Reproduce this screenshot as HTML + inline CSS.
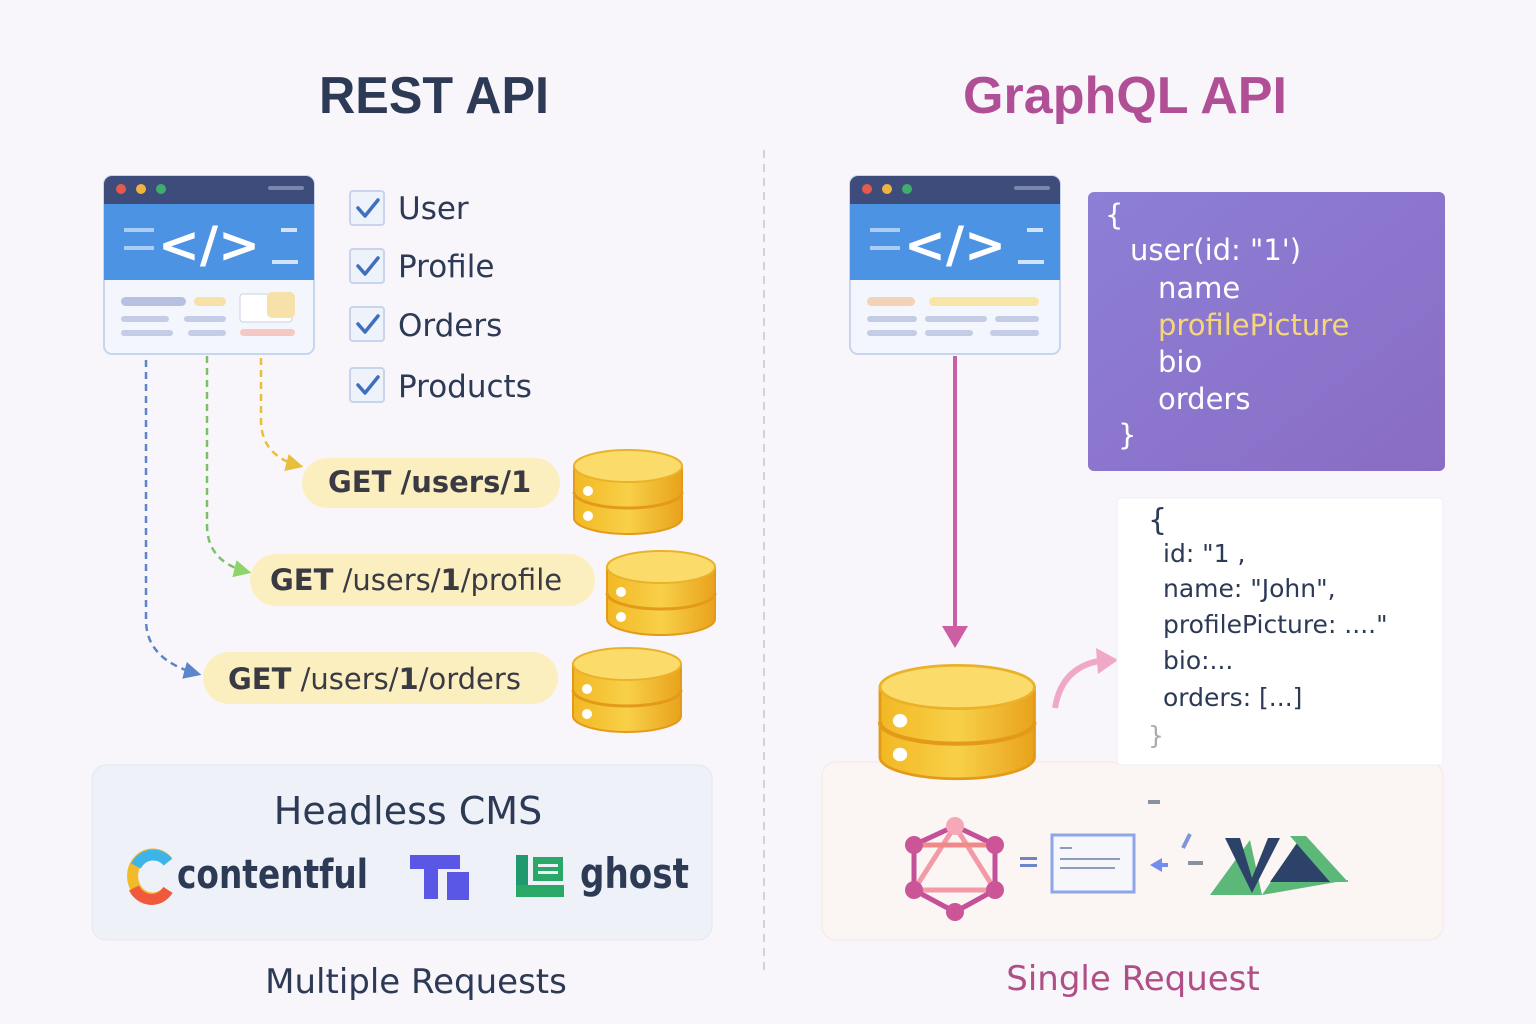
<!DOCTYPE html>
<html><head><meta charset="utf-8"><style>
html,body{margin:0;padding:0;background:#f8f6fb}
svg{display:block}
text{font-family:"DejaVu Sans","Liberation Sans",sans-serif}
</style></head><body>
<svg width="1536" height="1024" viewBox="0 0 1536 1024" xmlns="http://www.w3.org/2000/svg">
<defs>
<linearGradient id="gold" x1="0" x2="1"><stop offset="0" stop-color="#f2b824"/><stop offset=".5" stop-color="#f8d048"/><stop offset="1" stop-color="#e9a21c"/></linearGradient>
<linearGradient id="purp" x1="0" y1="0" x2="1" y2="1"><stop offset="0" stop-color="#8d7fd6"/><stop offset="1" stop-color="#8a6cc4"/></linearGradient>
<marker id="ab" viewBox="0 0 10 10" refX="8" refY="5" markerWidth="7" markerHeight="7" orient="auto"><path d="M0,0L10,5L0,10z" fill="#5b86c9"/></marker>
<marker id="ag" viewBox="0 0 10 10" refX="8" refY="5" markerWidth="7" markerHeight="7" orient="auto"><path d="M0,0L10,5L0,10z" fill="#8fd46a"/></marker>
<marker id="ay" viewBox="0 0 10 10" refX="8" refY="5" markerWidth="7" markerHeight="7" orient="auto"><path d="M0,0L10,5L0,10z" fill="#e8bf3c"/></marker>
<g id="db">
<path d="M0,20 v52 a54,16 0 0 0 108,0 v-52z" fill="url(#gold)" stroke="#e39a1a" stroke-width="2"/>
<path d="M0,46 a54,16 0 0 0 108,0" fill="none" stroke="#e39a1a" stroke-width="3"/>
<ellipse cx="54" cy="20" rx="54" ry="16" fill="#fbdc6a" stroke="#eab22a" stroke-width="2"/>
<circle cx="14" cy="45" r="5" fill="#fff"/><circle cx="14" cy="70" r="5" fill="#fff"/>
</g>
<g id="br">
<rect x="0" y="0" width="210" height="178" rx="8" fill="#f3f6fc" stroke="#c7d6ee" stroke-width="2"/>
<path d="M8,0h194a8,8 0 0 1 8,8v20h-210v-20a8,8 0 0 1 8,-8z" fill="#3e4c7c"/>
<circle cx="17" cy="13" r="5" fill="#e55a4a"/><circle cx="37" cy="13" r="5" fill="#f0b340"/><circle cx="57" cy="13" r="5" fill="#3fae6c"/>
<rect x="164" y="10" width="36" height="4" rx="2" fill="#7a86ab"/>
<rect x="0" y="28" width="210" height="76" fill="#4c93e3"/>
<rect x="20" y="52" width="30" height="4" fill="#a9cdf4"/><rect x="20" y="70" width="30" height="4" fill="#a9cdf4"/>
<text x="105" y="86" text-anchor="middle" font-size="50" font-weight="bold" fill="#fff">&lt;/&gt;</text>
<rect x="177" y="52" width="16" height="4" fill="#d0e4fa"/><rect x="168" y="84" width="26" height="4" fill="#d0e4fa"/>
</g>
</defs>

<line x1="764" y1="150" x2="764" y2="970" stroke="#cdbfd3" stroke-width="1.5" stroke-dasharray="8,6"/>

<text x="434" y="113" text-anchor="middle" font-size="52" fill="#2d3a55" style="font-family:'Liberation Sans',sans-serif" font-weight="bold" textLength="230" lengthAdjust="spacingAndGlyphs">REST API</text>
<text x="1125" y="113" text-anchor="middle" font-size="52" fill="#b04f95" style="font-family:'Liberation Sans',sans-serif" font-weight="bold" textLength="324" lengthAdjust="spacingAndGlyphs">GraphQL API</text>

<use href="#br" x="104" y="176"/>
<rect x="121" y="297" width="65" height="9" rx="4.5" fill="#b7c0e0"/><rect x="194" y="297" width="32" height="9" rx="4.5" fill="#f6e1a6"/>
<rect x="121" y="316" width="48" height="6" rx="3" fill="#c5cde6"/><rect x="184" y="316" width="42" height="6" rx="3" fill="#c5cde6"/>
<rect x="121" y="330" width="52" height="6" rx="3" fill="#c5cde6"/><rect x="188" y="330" width="38" height="6" rx="3" fill="#c5cde6"/>
<rect x="240" y="294" width="52" height="28" rx="3" fill="#fff" stroke="#c7d0e6"/><rect x="267" y="292" width="28" height="26" rx="5" fill="#f6e2a8"/>
<rect x="240" y="329" width="55" height="7" rx="3.5" fill="#f5c8c4"/>

<g font-size="31" fill="#2d3a55">
<g stroke="#c8d4ec" stroke-width="2" fill="#eef2fa">
<rect x="350" y="191" width="34" height="34" rx="3"/><rect x="350" y="249" width="34" height="34" rx="3"/>
<rect x="350" y="307" width="34" height="34" rx="3"/><rect x="350" y="368" width="34" height="34" rx="3"/></g>
<g stroke="#3f6fbf" stroke-width="3.5" fill="none" stroke-linecap="round" stroke-linejoin="round">
<path d="M358,208l7,8l13,-16"/><path d="M358,266l7,8l13,-16"/><path d="M358,324l7,8l13,-16"/><path d="M358,385l7,8l13,-16"/></g>
<text x="398" y="219">User</text><text x="398" y="277">Profile</text><text x="398" y="336">Orders</text><text x="398" y="397">Products</text>
</g>

<path d="M146,360 V620 Q146,660 198,674" fill="none" stroke="#5b86c9" stroke-width="2.5" stroke-dasharray="7,5" marker-end="url(#ab)"/>
<path d="M207,356 V525 Q207,562 248,572" fill="none" stroke="#7cc16a" stroke-width="2.5" stroke-dasharray="7,5" marker-end="url(#ag)"/>
<path d="M261,358 V420 Q261,456 300,466" fill="none" stroke="#e8bf3c" stroke-width="2.5" stroke-dasharray="7,5" marker-end="url(#ay)"/>

<g font-size="29" fill="#3a3a44">
<rect x="302" y="458" width="258" height="50" rx="25" fill="#fcefbf"/>
<text x="328" y="492"><tspan font-weight="bold">GET</tspan> <tspan font-weight="bold">/users/1</tspan></text>
<rect x="250" y="554" width="345" height="52" rx="26" fill="#fcefbf"/>
<text x="270" y="590"><tspan font-weight="bold">GET</tspan> /users/<tspan font-weight="bold">1</tspan>/profile</text>
<rect x="203" y="652" width="355" height="52" rx="26" fill="#fcefbf"/>
<text x="228" y="689"><tspan font-weight="bold">GET</tspan> /users/<tspan font-weight="bold">1</tspan>/orders</text>
</g>
<use href="#db" x="574" y="446"/><use href="#db" x="607" y="547"/><use href="#db" x="573" y="644"/>

<rect x="92" y="765" width="620" height="175" rx="14" fill="#eef1f8" stroke="#e2e7f2"/>
<text x="408" y="824" text-anchor="middle" font-size="38" fill="#2d3a55">Headless CMS</text>
<path d="M168,862 A20,22 0 1 0 168,890" fill="none" stroke="#f2b92a" stroke-width="11"/>
<path d="M168,862 A20,22 0 0 0 136,866" fill="none" stroke="#3db4e8" stroke-width="11"/>
<path d="M134,888 A20,22 0 0 0 168,890" fill="none" stroke="#ef5a3c" stroke-width="11"/>
<text x="177" y="888" font-size="40" font-weight="bold" fill="#2d3a55" textLength="191" lengthAdjust="spacingAndGlyphs">contentful</text>
<path d="M410,855h50v14h-22v30h-14v-30h-14z" fill="#5a56e6"/><rect x="447" y="872" width="22" height="28" fill="#5a56e6"/>
<rect x="516" y="855" width="12" height="42" fill="#1f9a6e"/><rect x="516" y="885" width="48" height="12" fill="#2aa868"/>
<rect x="533" y="857" width="30" height="24" fill="#2aa868"/><rect x="538" y="864" width="20" height="3" fill="#eef1f8"/><rect x="538" y="871" width="20" height="3" fill="#eef1f8"/>
<text x="580" y="888" font-size="42" font-weight="bold" fill="#2d3a55" textLength="109" lengthAdjust="spacingAndGlyphs">ghost</text>
<text x="416" y="993" text-anchor="middle" font-size="34" fill="#2d3a55">Multiple Requests</text>

<rect x="822" y="762" width="621" height="178" rx="14" fill="#fbf5f3" stroke="#f5e8e4"/>
<use href="#br" x="850" y="176"/>
<rect x="867" y="297" width="48" height="9" rx="4.5" fill="#f4d2b6"/><rect x="929" y="297" width="110" height="9" rx="4.5" fill="#f7e6a6"/>
<rect x="867" y="316" width="50" height="6" rx="3" fill="#c5cde6"/><rect x="925" y="316" width="62" height="6" rx="3" fill="#c5cde6"/><rect x="995" y="316" width="44" height="6" rx="3" fill="#c5cde6"/>
<rect x="867" y="330" width="50" height="6" rx="3" fill="#c5cde6"/><rect x="925" y="330" width="48" height="6" rx="3" fill="#c5cde6"/><rect x="990" y="330" width="49" height="6" rx="3" fill="#c5cde6"/>

<rect x="1088" y="192" width="357" height="279" rx="6" fill="url(#purp)"/>
<g font-size="29" fill="#fff">
<text x="1105" y="225">{</text><text x="1130" y="260">user(id: "1')</text>
<text x="1158" y="298">name</text><text x="1158" y="335" fill="#f5d77a">profilePicture</text>
<text x="1158" y="372">bio</text><text x="1158" y="409">orders</text><text x="1118" y="445">}</text>
</g>

<line x1="955" y1="356" x2="955" y2="628" stroke="#cc5fa3" stroke-width="4"/>
<path d="M942,626 L955,648 L968,626z" fill="#cc5fa3"/>
<g transform="translate(880,660) scale(1.43,1.35)"><use href="#db"/></g>
<path d="M1055,708 Q1062,665 1105,660" fill="none" stroke="#f0a8c8" stroke-width="6"/>
<path d="M1096,648 L1118,660 L1098,674z" fill="#f0a8c8"/>

<rect x="1117" y="498" width="326" height="267" rx="4" fill="#fff" stroke="#eceef4"/>
<g font-size="25" fill="#2d3a55">
<text x="1148" y="530" font-size="30">{</text>
<text x="1163" y="562">id: "1 ,</text><text x="1163" y="597">name: "John",</text>
<text x="1163" y="633">profilePicture:  ...."</text><text x="1163" y="669">bio:...</text>
<text x="1163" y="706">orders: [...]</text><text x="1148" y="744" fill="#aaa">}</text>
</g>

<rect x="1148" y="800" width="12" height="4" fill="#8a90a0"/>
<g stroke-width="4">
<line x1="955" y1="826" x2="995" y2="845" stroke="#f4a0a8"/>
<path d="M955,826 L914,890 L995,890 Z" fill="none" stroke="#f29aa8" stroke-width="5"/>
<path d="M914,845 L914,890 L955,912 L995,890 L995,845 L955,826 Z" fill="none" stroke="#c4509a" stroke-width="5"/>
<line x1="914" y1="845" x2="995" y2="845" stroke="#f08a8a" stroke-width="5"/>
</g>
<g fill="#cc5598"><circle cx="955" cy="826" r="9" fill="#f6a8b8"/><circle cx="914" cy="845" r="9"/><circle cx="995" cy="845" r="9"/><circle cx="914" cy="890" r="9"/><circle cx="995" cy="890" r="9"/><circle cx="955" cy="912" r="9"/></g>
<rect x="1020" y="857" width="17" height="3" fill="#6d86c8"/><rect x="1020" y="864" width="17" height="3" fill="#6d86c8"/>
<rect x="1052" y="835" width="82" height="57" fill="#f6f6fb" stroke="#8ea6e8" stroke-width="3"/>
<g fill="#8e9ac0"><rect x="1060" y="847" width="12" height="2"/><rect x="1060" y="858" width="60" height="2"/><rect x="1060" y="867" width="55" height="2"/></g>
<path d="M1150,865 L1162,858 L1162,872z" fill="#6f8ef0"/><rect x="1160" y="863" width="8" height="4" fill="#6f8ef0"/>
<rect x="1188" y="861" width="15" height="4" fill="#8a90a0"/><line x1="1183" y1="848" x2="1190" y2="834" stroke="#7f94e0" stroke-width="4"/>
<path d="M1210,895 L1250,840 L1262,895 z" fill="#5cb878"/>
<path d="M1225,838 L1240,838 L1252,878 L1268,838 L1280,838 L1252,893 z" fill="#2d4268"/>
<path d="M1262,895 L1300,838 L1348,882 L1348,880 Z" fill="#5cb878"/>
<path d="M1270,882 L1302,836 L1330,882 z" fill="#2d4268"/>
<path d="M1290,836 L1306,836 L1348,882 L1330,882z" fill="#5cb878"/>
<text x="1133" y="990" text-anchor="middle" font-size="34" fill="#b04f85">Single Request</text>
</svg>
</body></html>
